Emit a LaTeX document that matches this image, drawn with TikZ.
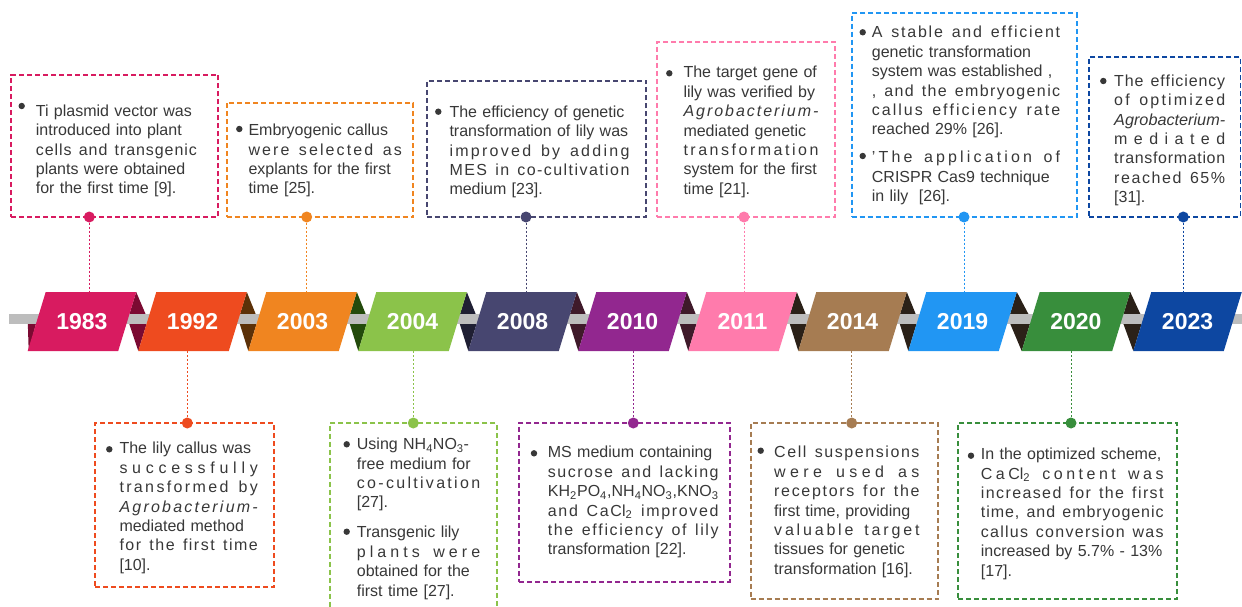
\documentclass[tikz,border=0pt]{standalone}
\usepackage{fontspec}
\setmainfont{Liberation Sans}
\usepackage{graphicx}
\definecolor{c1983}{HTML}{D81B60}
\definecolor{c1992}{HTML}{EE4B1F}
\definecolor{c2003}{HTML}{F08520}
\definecolor{c2004}{HTML}{8BC34A}
\definecolor{c2008}{HTML}{474670}
\definecolor{c2010}{HTML}{92278F}
\definecolor{c2011}{HTML}{FF7BAC}
\definecolor{c2014}{HTML}{A67C52}
\definecolor{c2019}{HTML}{2196F3}
\definecolor{c2020}{HTML}{388E3C}
\definecolor{c2023}{HTML}{0D47A1}
\definecolor{txt}{HTML}{383838}
\definecolor{barc}{HTML}{BDBDBD}
\definecolor{dkA}{HTML}{7B0A32}
\definecolor{dkB}{HTML}{5C3108}
\definecolor{dkC}{HTML}{234A0C}
\definecolor{dkD}{HTML}{1F1F33}
\definecolor{dkE}{HTML}{3F1A2A}
\definecolor{dkF}{HTML}{2B2118}
\newcommand\jline[1]{\makebox[\linewidth][s]{#1}}
\newcommand\fitline[1]{\resizebox{\linewidth}{\height}{#1}}
\ExplSyntaxOn
\seq_new:N \l__sp_words_seq
\seq_new:N \l__sp_out_seq
\tl_new:N \l__sp_tmp_tl
\NewDocumentCommand \sline { m }
  {
    \seq_set_split:Nnn \l__sp_words_seq { ~ } { #1 }
    \seq_clear:N \l__sp_out_seq
    \seq_map_inline:Nn \l__sp_words_seq
      {
        \tl_map_inline:nn { ##1 } { \seq_put_right:Nn \l__sp_out_seq { ####1 } }
        \seq_put_right:Nn \l__sp_out_seq { \space }
      }
    \seq_pop_right:NN \l__sp_out_seq \l__sp_tmp_tl
    \makebox [ \linewidth ] [ s ] { \seq_use:Nn \l__sp_out_seq { \hfil } }
  }
\ExplSyntaxOff
\tikzset{
  infobox/.style={draw=#1, line width=1.7pt, dash pattern=on 5pt off 3pt, inner sep=0pt, outer sep=0pt, anchor=north west, fill=white},
  dotnode/.style={circle, fill=#1, minimum size=11pt, inner sep=0pt},
  conn/.style={draw=#1, line width=0.8pt, dash pattern=on 2pt off 2pt},
  yearlbl/.style={text=white, font=\fontsize{23}{27}\selectfont\bfseries, minimum height=59pt, inner sep=0pt},
  info/.style={anchor=north west, inner sep=0pt, text width=#1, align=left, text=txt, font=\fontsize{16}{19.4}\selectfont},
  bul/.style={fill=txt},
}
\begin{document}
\begin{tikzpicture}[x=1pt,y=-1pt]
\useasboundingbox (0,0) rectangle (1242,607);
\clip (0,0) rectangle (1242,607);
% ribbon folds
\foreach \a/\b/\col in {27.7/138.3/dkA, 138.3/248.3/dkB, 248.3/358.3/dkC, 358.3/468.3/dkD, 468.3/578.3/dkE, 578.3/688.3/dkE, 688.3/798.3/dkF, 798.3/908.3/dkF, 908.3/1021.7/dkF, 1021.7/1133.3/dkF}
  \fill[\col] (\a+108.5,292) -- (\b+9.6,319.5) -- (\b,351) -- (\a+100.1,319.5) -- cycle;
\fill[dkA] (27.7,319.5) -- (37.1,319.5) -- (28.7,351) -- cycle;
% bar
\fill[barc] (9,314) rectangle (1242,324);
% panels
\foreach \bl/\yr in {27.7/1983, 138.3/1992, 248.3/2003, 358.3/2004, 468.3/2008, 578.3/2010, 688.3/2011, 798.3/2014, 908.3/2019, 1021.7/2020, 1133.3/2023}{
  \fill[c\yr] (\bl,351) -- (\bl+90.5,351) -- (\bl+108.5,292) -- (\bl+18,292) -- cycle;
  \node[yearlbl] (p\yr) at (\bl+54.25,321.5) {\yr};
}
% boxes
\node[infobox=c1983, minimum width=207.3pt, minimum height=142pt] (b1983) at (11,75) {};
\node[infobox=c2003, minimum width=186.6pt, minimum height=114.3pt] (b2003) at (226.7,102.7) {};
\node[infobox=c2008, minimum width=219.3pt, minimum height=136.3pt] (b2008) at (426.7,80.7) {};
\node[infobox=c2011, minimum width=177.7pt, minimum height=175.3pt] (b2011) at (657.3,41.7) {};
\node[infobox=c2019, minimum width=225pt, minimum height=203.7pt] (b2019) at (851.7,13.3) {};
\node[infobox=c2023, minimum width=151.2pt, minimum height=159.7pt] (b2023) at (1089.3,57.3) {};
\node[infobox=c1992, minimum width=179pt, minimum height=163.7pt] (b1992) at (95,423) {};
\node[infobox=c2004, minimum width=166.7pt, minimum height=200pt] (b2004) at (330,423) {};
\node[infobox=c2010, minimum width=210.7pt, minimum height=158.7pt] (b2010) at (519.3,423) {};
\node[infobox=c2014, minimum width=187.6pt, minimum height=176pt] (b2014) at (750.7,423) {};
\node[infobox=c2020, minimum width=219pt, minimum height=176pt] (b2020) at (958.3,423) {};
% dots
\foreach \yr/\x in {1983/89.3, 2003/306.7, 2008/526, 2011/744, 2019/964, 2023/1183.3}
  \node[dotnode=c\yr] (d\yr) at (\x,217) {};
\foreach \yr/\x in {1992/187.3, 2004/413.3, 2010/633.3, 2014/851.7, 2020/1071}
  \node[dotnode=c\yr] (d\yr) at (\x,423) {};
% connectors
\foreach \yr in {1983,2003,2008,2011,2019,2023}
  \draw[conn=c\yr] (d\yr) -- (d\yr |- p\yr.north);
\foreach \yr in {1992,2004,2010,2014,2020}
  \draw[conn=c\yr] (d\yr |- p\yr.south) -- (d\yr);
% bullets
\foreach \x/\y in {21.7/106, 239.3/129, 438.3/111.7, 669.3/73.3, 862.7/32.3, 862.7/156, 1103.3/81, 109.3/449.3, 346.7/444.3, 346.7/531.7, 534/453.3, 760.7/450.7, 971/455.7}
  \fill[bul] (\x,\y) circle (3.2pt);
% texts
\node[info=161pt] (t1983) at (35.7,102.6) {\strut\jline{Ti plasmid vector was}\\
\jline{introduced into plant}\\
\sline{cells and transgenic}\\
\jline{plants were obtained}\\
for the first time [9].};
\node[info=153.3pt] (t2003) at (248.3,121.9) {\strut\jline{Embryogenic callus}\\
\sline{were selected as}\\
\jline{explants for the first}\\
time [25].};
\node[info=180pt] (t2008) at (449.3,103.6) {\strut\jline{The efficiency of genetic}\\
\jline{transformation of lily was}\\
\sline{improved by adding}\\
\sline{MES in co-cultivation}\\
medium [23].};
\node[info=135pt] (t2011) at (683.3,64.2) {\strut\jline{The target gene of}\\
\jline{lily was verified by}\\
{\itshape\sline{Agrobacterium-}}\\
\jline{mediated genetic}\\
\sline{transformation}\\
\jline{system for the first}\\
time [21].};
\node[info=188.3pt] (t2019a) at (871.7,24.2) {\strut\sline{A stable and efficient}\\
\jline{genetic transformation}\\
\jline{system was established ,}\\
\sline{, and the embryogenic}\\
\sline{callus efficiency rate}\\
reached 29\% [26].};
\node[info=188.3pt] (t2019b) at (871.7,149.2) {\strut\sline{'The application of}\\
\jline{CRISPR Cas9 technique}\\
in lily\ \ [26].};
\node[info=111pt] (t2023) at (1114,72.6) {\strut\sline{The efficiency}\\
\sline{of optimized}\\
{\itshape\fitline{Agrobacterium-}}\\
\sline{mediated}\\
\sline{transformation}\\
\sline{reached 65\%}\\
{}[31].};
\node[info=138.3pt] (t1992) at (119.3,440.2) {\strut\jline{The lily callus was}\\
\sline{successfully}\\
\sline{transformed by}\\
{\itshape\sline{Agrobacterium-}}\\
\jline{mediated method}\\
\sline{for the first time}\\
{}[10].};
\node[info=123.3pt] (t2004a) at (356.7,435.9) {\strut\jline{Using NH\textsubscript{4}NO\textsubscript{3}-}\\
\jline{free medium for}\\
\sline{co-cultivation}\\
{}[27].};
\node[info=123.3pt] (t2004b) at (356.7,524.2) {\strut\jline{Transgenic lily}\\
\sline{plants were}\\
\jline{obtained for the}\\
first time [27].};
\node[info=170.7pt] (t2010) at (547.7,444.2) {\strut\jline{MS medium containing}\\
\sline{sucrose and lacking}\\
\sline{K{H\textsubscript{2}}P{O\textsubscript{4}},N{H\textsubscript{4}}N{O\textsubscript{3}},KN{O\textsubscript{3}}}\\
\sline{and Ca{Cl\textsubscript{2}} improved}\\
\sline{the efficiency of lily}\\
transformation [22].};
\node[info=145.3pt] (t2014) at (774,444.2) {\strut\sline{Cell suspensions}\\
\sline{were used as}\\
\sline{receptors for the}\\
\jline{first time, providing}\\
\sline{valuable target}\\
\jline{tissues for genetic}\\
transformation [16].};
\node[info=182.7pt] (t2020) at (980.7,445.9) {\strut\jline{In the optimized scheme,}\\
\sline{Ca{Cl\textsubscript{2}} content was}\\
\sline{increased for the first}\\
\sline{time, and embryogenic}\\
\sline{callus conversion was}\\
\jline{increased by 5.7\% - 13\%}\\
{}[17].};
\end{tikzpicture}
\end{document}
